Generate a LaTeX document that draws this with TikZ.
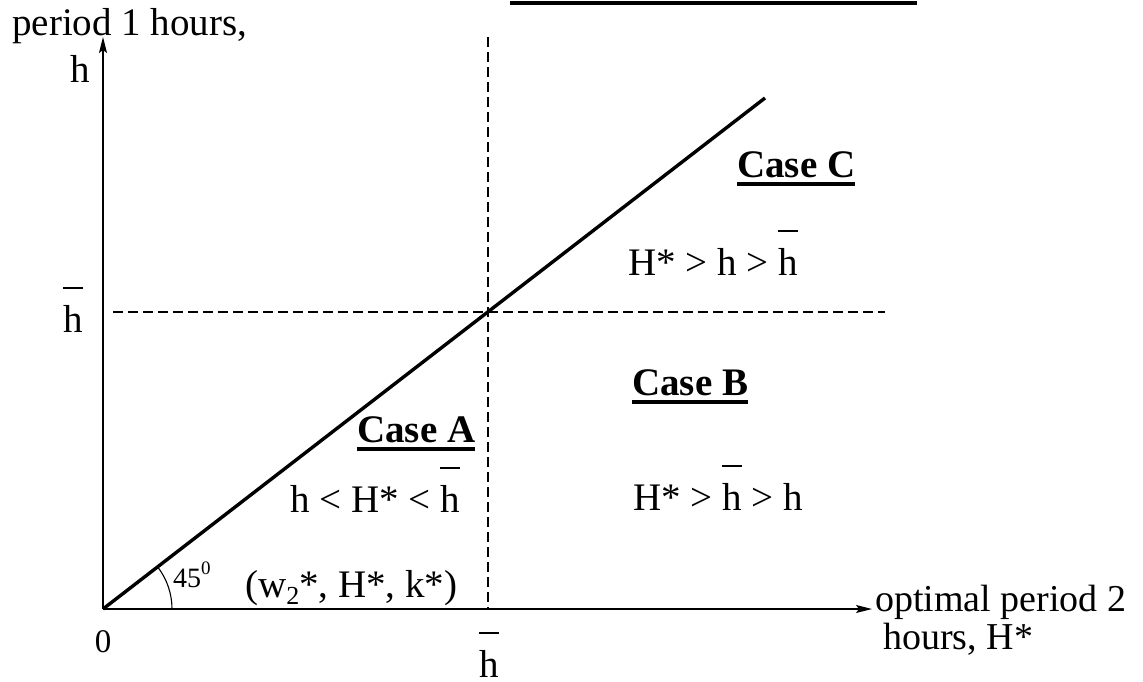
\documentclass[tikz,border=0pt]{standalone}
\usepackage{fontspec}
\setmainfont{Liberation Serif}
\usetikzlibrary{arrows.meta}
\newcommand\hb{\leavevmode\rlap{\raisebox{1.1em}{\rule{0.5em}{0.05em}}}h}
\newcommand\cul[1]{\setbox0=\hbox{\bfseries #1}\rlap{\rule[-0.22em]{\wd0}{0.1em}}\box0}
\begin{document}
\begin{tikzpicture}[x=1pt,y=-1pt,
  lbl/.style={inner sep=0, anchor=base west, font=\fontsize{39}{45}\selectfont},
  axis/.style={line width=1.4pt, -{Stealth[length=16pt,width=8pt,inset=3pt]}},
  guide/.style={line width=1.2pt, dash pattern=on 10pt off 5pt},
  diag/.style={line width=3.4pt}]
\useasboundingbox (0,0) rectangle (1143,681);
% top rule
\coordinate (tl) at (510,3);
\coordinate (tr) at (917,3);
\draw[line width=4pt] (tl) -- (tr);
% axes
\coordinate (O) at (103,609);
\coordinate (ytip) at (103,37);
\coordinate (xtip) at (872,609);
\draw[axis] (O) -- (ytip);
\draw[axis] (O) -- (xtip);
% guides
\coordinate (vtop) at (488,37);
\coordinate (vbot) at (488,609);
\coordinate (hl) at (113,312);
\coordinate (hr) at (885,312);
\draw[guide] (vtop) -- (vbot);
\draw[guide] (hl) -- (hr);
% diagonal
\coordinate (dend) at (765,98);
\draw[diag] (O) -- (dend);
% angle arc
\draw[line width=1.1pt] (O) ++(69,0) arc[start angle=0, end angle=-37.6, radius=69];
% labels
\node[lbl] (ylab) at (12,35) {period 1 hours,};
\node[lbl] (yh) at (70,82) {h};
\node[lbl] (yhb) at (63,332) {\hb};
\node[inner sep=0, anchor=base, font=\fontsize{33}{38}\selectfont] (zero) at (103,652) {0};
\node[lbl] (xhb) at (479,677) {\hb};
\node[lbl, font=\fontsize{28}{32}\selectfont] (ang) at (173,587) {45\raisebox{0.45em}{\fontsize{19}{20}\selectfont 0}};
\node[lbl] (opt) at (245,597) {(w\raisebox{-0.2em}{\fontsize{26}{28}\selectfont 2}*, H*, k*)};
\node[lbl] (caseA) at (357,442) {\cul{Case A}};
\node[lbl] (relA) at (290,512) {h < H* < \hb};
\node[lbl] (caseB) at (632,395) {\cul{Case B}};
\node[lbl] (relB) at (633,510) {H* > \hb{} > h};
\node[lbl] (caseC) at (737,177) {\cul{Case C}};
\node[lbl] (relC) at (628,275) {H* > h > \hb};
\node[lbl, font=\fontsize{38}{44}\selectfont] (xlab1) at (875,611) {optimal period 2};
\node[lbl, font=\fontsize{38}{44}\selectfont] (xlab2) at (883,649) {hours, H*};
\end{tikzpicture}
\end{document}
